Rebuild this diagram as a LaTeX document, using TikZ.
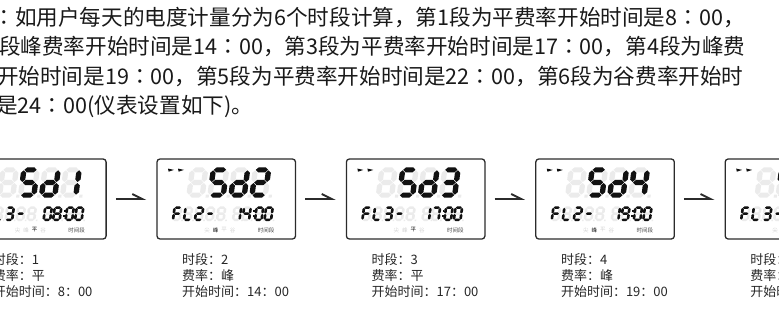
\documentclass[tikz,border=0pt]{standalone}
\usepackage{fontspec}
\newfontfamily\cjk{Noto Sans CJK SC}
\newfontfamily\cjkjp{Noto Sans CJK JP}
\usepackage{xcolor}
\usetikzlibrary{arrows.meta}

\definecolor{segon}{HTML}{111111}
\definecolor{segoff}{HTML}{EBEBEB}
\definecolor{tagoff}{HTML}{D2D2D2}
\definecolor{tagdark}{HTML}{444444}
\definecolor{framegray}{HTML}{2B2B2B}

\tikzset{
  bodytext/.style={anchor=base west, inner sep=0pt, font=\cjk\fontsize{21.6}{25}\selectfont, text=black!90},
  infotext/.style={anchor=base west, inner sep=0pt, font=\cjk\fontsize{13}{15}\selectfont, text=black!85},
  tinylabel/.style={inner sep=0pt, font=\cjk\fontsize{5.5}{6}\selectfont},
  lcdbox/.style={draw=framegray, line width=1.3pt, rounded corners=3pt, minimum width=138.5pt, minimum height=80pt, inner sep=0pt},
  flowarrow/.style={draw=framegray, line width=1.9pt, shorten <=9pt, shorten >=10pt, -{Straight Barb[harpoon, length=10pt, width=10pt]}}
}

% centred colon
\newcommand\cc{{\cjkjp ：}}

% seven segment digits, unit box 1 x 2
\newcommand\hsg[2]{(#1+0.04,#2) -- ++(0.2,0.2) -- ++(0.52,0) -- ++(0.2,-0.2) -- ++(-0.2,-0.2) -- ++(-0.52,0) -- cycle}
\newcommand\vsg[2]{(#1,#2+0.04) -- ++(0.2,0.2) -- ++(0,0.52) -- ++(-0.2,0.2) -- ++(-0.2,-0.2) -- ++(0,-0.52) -- cycle}
\newcommand\sega{\hsg{0}{2}}
\newcommand\segb{\vsg{1}{1}}
\newcommand\segc{\vsg{1}{0}}
\newcommand\segd{\hsg{0}{0}}
\newcommand\sege{\vsg{0}{0}}
\newcommand\segf{\vsg{0}{1}}
\newcommand\segg{\hsg{0}{1}}
\newcommand\segn{}
\newcommand\defch[2]{\expandafter\def\csname ch#1\endcsname{#2}}
\defch{0}{a,b,c,d,e,f}
\defch{1}{b,c}
\defch{2}{a,b,g,e,d}
\defch{3}{a,b,g,c,d}
\defch{4}{f,g,b,c}
\defch{5}{a,f,g,c,d}
\defch{7}{a,b,c}
\defch{8}{a,b,c,d,e,f,g}
\defch{9}{a,b,c,d,f,g}
\defch{d}{b,c,d,e,g}
\defch{F}{a,e,f,g}
\defch{L}{d,e,f}
\defch{-}{g}
\defch{n}{n}

% #1 x, #2 y (bottom left), #3 x unit, #4 y unit, #5 character
\newcommand\segchar[5]{%
  \begin{scope}[shift={(#1,#2)}, x=#3pt, y=#4pt, xslant=0.13]
    \fill[segoff] \sega \segb \segc \segd \sege \segf \segg (1.26,-0.2) rectangle (1.5,0.04);
    \edef\segs{\csname ch#5\endcsname}
    \foreach \s in \segs {\fill[segon] \csname seg\s\endcsname;}
  \end{scope}}

\newcommand\ratename[1]{\ifcase#1\or 尖\or 峰\or 平\or 谷\fi}

% #1 left, #2 period, #3 tariff, #4-#7 time digits, #8 start time
\newcommand\lcdpanel[8]{%
  \node[lcdbox] (p#2) at (#1+69.25,199) {};
  \fill[segon] (#1+11,168.6) -- ++(6,1.3) -- ++(-5.4,1.8) -- cycle;
  \fill[segon] (#1+21,168.6) -- ++(6,1.3) -- ++(-5.4,1.8) -- cycle;
  \segchar{#1+32}{195.2}{13.3}{12.7}{n}
  \segchar{#1+53}{195.2}{13.3}{12.7}{5}
  \segchar{#1+74}{195.2}{13.3}{12.7}{d}
  \segchar{#1+95}{195.2}{13.3}{12.7}{#2}
  \segchar{#1+16}{219.8}{6.6}{6.1}{F}
  \segchar{#1+27}{219.8}{6.6}{6.1}{L}
  \segchar{#1+38}{219.8}{6.6}{6.1}{#3}
  \segchar{#1+49}{219.8}{6.6}{6.1}{-}
  \segchar{#1+60}{219.8}{6.6}{6.1}{n}
  \segchar{#1+76}{219.8}{6.6}{6.1}{#4}
  \segchar{#1+85.5}{219.8}{6.6}{6.1}{#5}
  \segchar{#1+98}{219.8}{6.6}{6.1}{#6}
  \segchar{#1+107.5}{219.8}{6.6}{6.1}{#7}
  \fill[segon] (#1+96.2,210.3) rectangle ++(1.8,1.8);
  \fill[segon] (#1+95.6,215.3) rectangle ++(1.8,1.8);
  \foreach \l [count=\k] in {尖,峰,平,谷} {%
    \ifnum\k=#3\relax
      \node[tinylabel, text=segon] (l#2\k) at (#1+41.5+8.5*\k,230) {\l};
    \else
      \node[tinylabel, text=tagoff] (l#2\k) at (#1+41.5+8.5*\k,230) {\l};
    \fi}
  \node[tinylabel, text=tagdark] (l#2t) at (#1+109,230) {时间段};
  \node[infotext] (t#2a) at (#1+25,264) {时段：#2};
  \node[infotext] (t#2b) at (#1+25,280) {费率：\ratename{#3}};
  \node[infotext] (t#2c) at (#1+25,296) {开始时间：#8};
}

\begin{document}
\begin{tikzpicture}[x=1pt, y=-1pt]
\useasboundingbox (0,0) rectangle (779,326);
\clip (0,0) rectangle (779,326);

\node[bodytext] (line1) at (-6.6,25.5) {\cc 如用户每天的电度计量分为6个时段计算，第1段为平费率开始时间是8\cc 00，};
\node[bodytext] (line2) at (-1,54.8) {段峰费率开始时间是14\cc 00，第3段为平费率开始时间是17\cc 00，第4段为峰费};
\node[bodytext] (line3) at (-3,84.1) {开始时间是19\cc 00，第5段为平费率开始时间是22\cc 00，第6段为谷费率开始时};
\node[bodytext] (line4) at (-4,113.4) {是24\cc 00(仪表设置如下)。};

\lcdpanel{-32.4}{1}{3}{0}{8}{0}{0}{8：00}
\lcdpanel{157}{2}{2}{1}{4}{0}{0}{14：00}
\lcdpanel{346.4}{3}{3}{1}{7}{0}{0}{17：00}
\lcdpanel{535.8}{4}{2}{1}{9}{0}{0}{19：00}
\lcdpanel{725.2}{5}{3}{2}{2}{0}{0}{22：00}

\foreach \i/\j in {1/2,2/3,3/4,4/5}
  \draw[flowarrow] (p\i) -- (p\j);
\end{tikzpicture}
\end{document}
